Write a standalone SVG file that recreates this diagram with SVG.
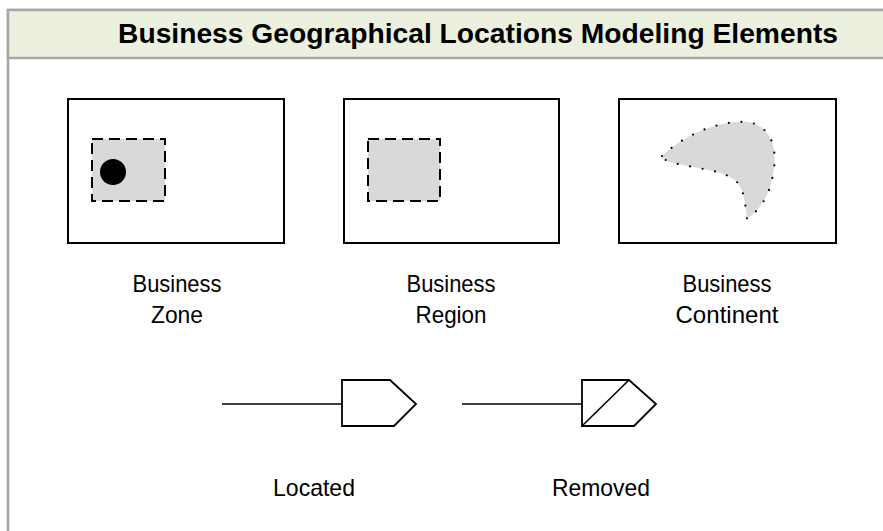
<svg xmlns="http://www.w3.org/2000/svg" width="883" height="531" viewBox="0 0 883 531">
  <style>
    .frame { fill: none; stroke: #a6a6a6; stroke-width: 2.5; }
    .header { fill: #ebf1de; stroke: #a6a6a6; stroke-width: 2.5; }
    .title { font-family: "Liberation Sans", Arial, sans-serif; font-weight: bold; font-size: 27px; fill: #000; text-anchor: middle; }
    .label { font-family: "Liberation Sans", Arial, sans-serif; font-size: 24px; fill: #000; text-anchor: middle; }
    .box { fill: #fff; stroke: #000; stroke-width: 2; }
    .area { fill: #d9d9d9; stroke: #000; stroke-width: 2; stroke-dasharray: 11 6; }
    .blob { fill: #d9d9d9; stroke: #000; stroke-width: 2.2; stroke-linecap: round; stroke-dasharray: 0 12.6; }
    .line { fill: none; stroke: #000; stroke-width: 1.6; }
    .tag { fill: #fff; stroke: #000; stroke-width: 1.8; stroke-linejoin: miter; }
  </style>

  <!-- outer panel and title band -->
  <g id="panel">
    <rect class="frame" x="8" y="10" width="900" height="540"/>
    <rect class="header" x="8" y="10" width="900" height="48"/>
    <text class="title" x="478" y="43" textLength="720" lengthAdjust="spacingAndGlyphs">Business Geographical Locations Modeling Elements</text>
  </g>

  <!-- Business Zone -->
  <g id="business-zone">
    <rect class="box" x="68" y="99" width="216" height="144"/>
    <rect class="area" x="92" y="139" width="73" height="62"/>
    <circle cx="113" cy="172" r="13" fill="#000"/>
    <text class="label" x="177" y="292" textLength="89" lengthAdjust="spacingAndGlyphs">Business</text>
    <text class="label" x="177" y="323" textLength="52" lengthAdjust="spacingAndGlyphs">Zone</text>
  </g>

  <!-- Business Region -->
  <g id="business-region">
    <rect class="box" x="344" y="99" width="215" height="144"/>
    <rect class="area" x="368" y="139" width="72" height="62"/>
    <text class="label" x="451" y="292" textLength="89" lengthAdjust="spacingAndGlyphs">Business</text>
    <text class="label" x="451" y="323" textLength="71" lengthAdjust="spacingAndGlyphs">Region</text>
  </g>

  <!-- Business Continent -->
  <g id="business-continent">
    <rect class="box" x="619" y="99" width="217" height="144"/>
    <path class="blob" d="M662,156 C685,134 720,120 748,122 C772,126 778,150 773,174 C770,195 760,210 747,219 C745,205 745,190 736,181 C722,169 695,169 670,162 C665,160 662,158 662,156 Z"/>
    <text class="label" x="727" y="292" textLength="89" lengthAdjust="spacingAndGlyphs">Business</text>
    <text class="label" x="727" y="323" textLength="103" lengthAdjust="spacingAndGlyphs">Continent</text>
  </g>

  <!-- relation symbols -->
  <g id="connectors">
    <g id="located">
      <line class="line" x1="222" y1="404" x2="342" y2="404"/>
      <polygon class="tag" points="342,380 390,380 416,404 394,426 342,426"/>
      <text class="label" x="314" y="496" textLength="82" lengthAdjust="spacingAndGlyphs">Located</text>
    </g>
    <g id="removed">
      <line class="line" x1="462" y1="404" x2="582" y2="404"/>
      <polygon class="tag" points="582,380 629,380 656,404 634,426 582,426"/>
      <line class="line" x1="582" y1="426" x2="629" y2="380"/>
      <text class="label" x="601" y="496" textLength="98" lengthAdjust="spacingAndGlyphs">Removed</text>
    </g>
  </g>
</svg>
